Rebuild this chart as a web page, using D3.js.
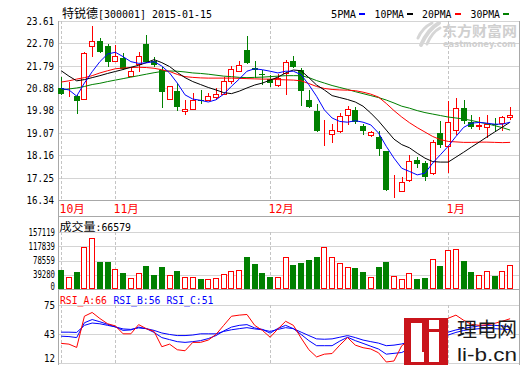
<!DOCTYPE html>
<html><head><meta charset="utf-8">
<script src="https://cdn.jsdelivr.net/npm/d3@7"></script>
<style>body{margin:0;background:#fff;} svg{display:block;}</style>
</head><body><div id="chart"></div>
<script>
// ---------------- DATA ----------------
const title = "特锐德[300001] 2015-01-15";
const dates = ["2014-10-23","2014-10-24","2014-10-27","2014-10-28","2014-10-29","2014-10-30","2014-10-31",
"2014-11-03","2014-11-04","2014-11-05","2014-11-06","2014-11-07","2014-11-10","2014-11-11","2014-11-12","2014-11-13","2014-11-14",
"2014-11-17","2014-11-18","2014-11-19","2014-11-20","2014-11-21","2014-11-24","2014-11-25","2014-11-26","2014-11-27","2014-11-28",
"2014-12-01","2014-12-02","2014-12-03","2014-12-04","2014-12-05","2014-12-08","2014-12-09","2014-12-10","2014-12-11","2014-12-12",
"2014-12-15","2014-12-16","2014-12-17","2014-12-18","2014-12-19","2014-12-22","2014-12-23","2014-12-24","2014-12-25","2014-12-26",
"2014-12-29","2014-12-30","2014-12-31",
"2015-01-05","2015-01-06","2015-01-07","2015-01-08","2015-01-09","2015-01-12","2015-01-13","2015-01-14","2015-01-15"];
const open  = [20.87,20.60,20.56,20.45,22.61,22.78,22.59,21.99,22.09,21.39,21.85,22.69,21.98,21.62,20.44,20.78,19.94,20.04,20.42,20.41,20.53,20.64,21.16,21.57,22.42,21.70,21.46,21.25,21.02,21.50,21.97,21.63,20.41,19.94,19.26,19.02,19.15,19.80,19.98,19.33,18.99,18.89,18.31,16.74,16.71,17.16,17.97,17.84,17.43,19.06,18.54,19.19,20.07,19.50,19.33,19.29,19.41,19.46,19.70];
const high  = [21.32,21.13,20.60,22.37,23.42,22.93,22.69,22.63,22.30,21.75,22.36,23.05,22.13,21.75,20.99,21.09,20.41,20.68,20.80,20.68,20.87,21.32,21.77,21.97,22.99,22.00,21.63,21.40,21.46,22.04,22.17,21.70,20.82,20.24,19.60,19.42,19.87,20.14,20.10,19.42,19.15,19.13,18.34,17.36,17.26,18.17,18.07,17.91,18.79,19.53,20.35,20.48,20.41,19.80,19.70,19.78,19.67,19.74,20.10];
const low   = [20.60,20.51,19.82,20.40,22.16,22.33,21.75,21.95,21.62,21.32,21.55,21.90,21.75,20.06,20.40,19.94,19.80,20.00,20.25,20.35,20.41,20.62,21.05,21.55,21.88,21.29,21.02,20.91,20.91,20.61,21.70,20.14,20.08,19.10,18.52,18.65,19.06,19.39,19.42,18.99,18.88,18.11,16.69,16.42,16.69,17.09,17.63,17.12,17.36,18.45,17.43,18.96,19.42,19.23,19.20,18.85,19.14,19.13,19.60];
const close = [20.64,20.62,20.37,22.32,22.78,22.36,21.96,22.19,21.66,21.58,22.20,21.96,21.81,20.71,20.97,20.13,20.04,20.41,20.40,20.55,20.64,21.16,21.67,21.81,21.90,21.61,21.43,21.09,21.29,21.94,21.73,20.78,20.10,19.15,19.27,19.19,19.74,20.03,19.50,19.13,19.09,18.42,16.75,16.76,17.09,17.93,17.81,17.26,18.68,18.58,19.50,20.07,19.56,19.29,19.38,19.44,19.39,19.70,19.78];
const volume = [51470,34400,46050,115670,140050,73950,73950,56080,43340,28990,45240,62310,37930,59600,39820,48760,31700,34400,27090,26280,28990,41450,50660,53370,89400,67730,43340,32510,31700,88580,65020,70430,81270,89400,115670,88580,72330,61490,56890,46050,31700,59600,73140,37110,26280,45240,27090,29800,83170,62310,107550,110260,75850,46050,39820,48760,35220,50660,66579];
const ma5  = [20.87,20.81,20.56,21.09,21.55,21.96,22.27,22.34,22.16,21.96,21.89,21.91,21.96,21.78,21.50,21.09,20.61,20.44,20.39,20.32,20.41,20.64,20.96,21.25,21.57,21.67,21.63,21.57,21.50,21.57,21.57,21.43,21.02,20.55,20.00,19.67,19.53,19.50,19.56,19.50,19.39,19.06,18.52,18.04,17.63,17.50,17.36,17.43,17.84,18.18,18.52,18.92,19.29,19.46,19.49,19.46,19.42,19.42,19.50];
const ma10 = [21.59,21.37,21.18,21.23,21.31,21.39,21.48,21.56,21.64,21.73,21.81,21.92,22.04,21.92,21.76,21.52,21.31,21.15,21.03,20.91,20.81,20.70,20.66,20.76,20.89,21.01,21.09,21.21,21.33,21.50,21.62,21.59,21.31,21.01,20.81,20.58,20.50,20.42,20.32,20.15,19.87,19.55,19.18,18.81,18.59,18.46,18.24,18.04,17.90,17.88,17.88,18.08,18.28,18.49,18.69,18.90,19.10,19.30,19.50];
const ma20 = [21.13,21.18,21.25,21.31,21.39,21.50,21.59,21.67,21.70,21.72,21.73,21.72,21.69,21.63,21.56,21.44,21.35,21.32,21.30,21.29,21.29,21.29,21.29,21.28,21.27,21.26,21.25,21.25,21.23,21.22,21.21,21.18,21.07,20.95,20.87,20.83,20.81,20.80,20.78,20.72,20.64,20.52,20.26,19.97,19.71,19.48,19.28,19.10,18.92,18.79,18.72,18.70,18.68,18.68,18.69,18.69,18.68,18.67,18.68];
const ma30 = [20.81,20.85,20.89,20.95,21.03,21.08,21.15,21.21,21.27,21.33,21.39,21.45,21.51,21.56,21.58,21.57,21.54,21.50,21.48,21.45,21.41,21.37,21.35,21.32,21.31,21.32,21.33,21.35,21.37,21.39,21.39,21.39,21.31,21.19,21.09,20.99,20.91,20.83,20.74,20.66,20.58,20.50,20.40,20.28,20.15,20.07,19.97,19.89,19.83,19.77,19.71,19.67,19.63,19.57,19.50,19.44,19.36,19.28,19.18];
const rsiA = [33.3,32.5,28.9,62.8,66.9,60.3,54.6,52.3,43.7,43.7,53.7,49.3,46.3,29.7,32.5,26.4,25.3,34.4,34.4,36.9,43.0,52.9,62.8,64.0,64.7,52.9,47.4,40.0,49.0,57.3,52.9,39.1,26.4,18.6,21.6,22.3,31.4,39.6,31.4,28.6,27.2,23.1,13.1,14.2,30.8,36.3,36.3,33.0,47.4,49.6,60.6,64.0,58.4,54.0,52.9,53.5,55.1,57.3,60.1];
const rsiB = [41.1,40.7,39.6,55.7,59.2,56.8,54.0,51.2,47.4,47.9,51.0,49.3,45.2,39.6,37.4,35.2,34.4,35.2,36.3,38.5,41.8,46.8,51.0,52.9,53.7,50.1,48.5,44.4,49.6,52.9,49.3,43.0,36.3,30.8,30.8,30.8,35.8,40.0,36.3,33.3,30.2,27.2,21.6,22.5,23.4,27.5,29.7,31.9,38.5,41.8,45.5,47.9,49.6,51.0,52.3,52.9,52.9,52.3,51.0];
const rsiC = [45.5,45.5,45.2,52.9,55.4,54.6,52.9,51.2,49.0,48.5,50.1,49.3,47.4,44.6,43.0,41.8,41.8,42.4,43.7,43.7,43.7,46.3,48.1,49.3,50.4,49.0,48.1,46.3,48.5,50.4,49.3,45.5,41.8,38.2,37.8,38.2,40.0,41.8,39.6,36.9,35.2,33.6,30.8,31.4,32.7,34.7,36.3,38.0,40.7,41.8,42.4,45.2,47.4,48.5,49.3,49.3,49.3,48.8,48.1];
const priceTicks = [16.34,17.25,18.16,19.07,19.98,20.88,21.79,22.70,23.61];
const priceTickLabels = ["16.34","17.25","18.16","19.07","19.98","20.88","21.79","22.70","23.61"];
const volTicks = [0,39280,78559,117839,157119];
const rsiTicks = [12,43,75];
const legendNames = ["5PMA","10PMA","20PMA","30PMA"];
const rsiLabels = ["RSI_A:66","RSI_B:56","RSI_C:51"];
const volLabelName = "成交量";

// ---------------- STYLE ----------------
const UP="#ff0000", DOWN="#008000", BLUE="#0000ff";
const maColors=[BLUE,"#000000","#ff0000","#008000"];
const GRID="#d4d4d4", BORDER="#a8a8a8", DASH="#c4c4c4";
const MONO='"DejaVu Sans Mono","Noto Sans CJK SC",monospace';
const CJK='"Noto Sans CJK SC","DejaVu Sans",sans-serif';
const L=58.5, R=519.5;

const svg=d3.select("#chart").append("svg").attr("width",520).attr("height",365);
svg.append("rect").attr("width",520).attr("height",365).attr("fill","#fff");

const x=d3.scalePoint().domain(dates).range([61.2,510.1]);
const cx=i=>Math.round(x(dates[i]))+0.5;
const yP=d3.scaleLinear().domain([16.34,23.61]).range([200,21]);
const yV=d3.scaleLinear().domain([0,157119]).range([289,232]);
const yR=d3.scaleLinear().domain([12,75]).range([363,305]);
const crisp=v=>Math.round(v)+0.5;

function txt(s,xx,yy,o={}){
  const t=svg.append("text").attr("x",xx).attr("y",yy).text(s)
    .attr("font-family",o.family||MONO).attr("font-size",o.size||11)
    .attr("fill",o.fill||"#000").attr("text-anchor",o.anchor||"start");
  if(o.len){t.attr("textLength",o.len).attr("lengthAdjust","spacingAndGlyphs");}
  if(o.weight)t.attr("font-weight",o.weight);
  return t;
}
function hline(yy,col,x1=L,x2=R){svg.append("line").attr("x1",x1).attr("x2",x2).attr("y1",yy).attr("y2",yy).attr("stroke",col).attr("stroke-width",1);}

// ---- grids ----
priceTicks.forEach(t=>hline(crisp(yP(t)),GRID));
volTicks.forEach(t=>hline(crisp(yV(t)),GRID));
rsiTicks.forEach(t=>hline(crisp(yR(t)),GRID));
hline(200.5,BORDER); hline(216.5,BORDER); hline(289.5,BORDER);

// ---- month dashed lines and labels ----
const monthStarts=dates.map((d,i)=>i).filter(i=>i===0||dates[i].slice(5,7)!==dates[i-1].slice(5,7));
monthStarts.forEach(i=>{
  const xx=cx(i);
  [[21,200],[232,289],[305,363]].forEach(([a,b])=>{
    svg.append("line").attr("x1",xx).attr("x2",xx).attr("y1",a).attr("y2",b)
      .attr("stroke",DASH).attr("stroke-dasharray","3,2");
  });
  const m=+dates[i].slice(5,7);
  txt(m+"月",xx-2,212.5,{fill:UP,size:11.5});
});

// borders
svg.append("line").attr("x1",L).attr("x2",L).attr("y1",21).attr("y2",365).attr("stroke",BORDER);
svg.append("line").attr("x1",R).attr("x2",R).attr("y1",21).attr("y2",365).attr("stroke",BORDER);

// ---- watermark eastmoney ----
const wm=svg.append("g").attr("fill","none").attr("stroke","#d6d6d6").attr("stroke-linecap","round");
wm.append("path").attr("d","M421,45 C425,36 430,28 439,23").attr("stroke-width",4);
wm.append("path").attr("d","M427,44 C430,37 434,31 440,28").attr("stroke-width",3);
wm.append("path").attr("d","M418,38 C421,31 426,26 432,23").attr("stroke-width",3);
txt("东方财富网",442,35.5,{family:CJK,size:14,fill:"#cfcfcf",weight:"bold",len:75});
txt("eastmoney.com",443,47,{family:'"DejaVu Sans",sans-serif',size:8,fill:"#cfcfcf",weight:"bold",len:73});

// ---- y labels ----
priceTicks.forEach((t,k)=>txt(priceTickLabels[k],54,yP(t)+4,{anchor:"end",len:27.5}));
volTicks.forEach((t,k)=>{
  const s=String(t); let yy=yV(t)+3.6; if(t===0) yy=289.5;
  txt(s,55,yy,{anchor:"end",size:10,len:s.length*4.4});
});
rsiTicks.forEach((t,k)=>{let yy=yR(t)+4; if(k===0)yy=362; txt(String(t),55,yy,{anchor:"end",size:10.5,len:11});});

// ---- candles ----
const cg=svg.append("g");
dates.forEach((d,i)=>{
  const up=close[i]>=open[i], col=up?UP:DOWN, xx=cx(i);
  const top=Math.round(yP(Math.max(open[i],close[i]))), bot=Math.round(yP(Math.min(open[i],close[i])));
  cg.append("line").attr("x1",xx).attr("x2",xx).attr("y1",Math.round(yP(high[i]))).attr("y2",Math.round(yP(low[i]))).attr("stroke",col);
  if(up){
    cg.append("rect").attr("x",xx-3).attr("y",top+0.5).attr("width",5).attr("height",Math.max(bot-top,0)).attr("fill","#fff").attr("stroke",col);
  } else {
    cg.append("rect").attr("x",xx-3.5).attr("y",top).attr("width",6).attr("height",Math.max(bot-top,1)).attr("fill",col);
  }
});

// ---- moving averages ----
[ma5,ma10,ma20,ma30].slice().reverse().forEach((arr,k)=>{
  const col=maColors[3-k];
  svg.append("path").datum(arr).attr("fill","none").attr("stroke",col).attr("stroke-width",1)
    .attr("d",d3.line().x((v,i)=>x(dates[i])).y(v=>yP(v)));
});

// ---- legend ----
const legX=[331,374.5,422,470.5], legW=[25,29.5,29.5,29.5], dashX=[359,407,455,503];
legendNames.forEach((n,k)=>{
  txt(n,legX[k],18,{len:legW[k]});
  svg.append("rect").attr("x",dashX[k]).attr("y",13).attr("width",6).attr("height",2).attr("fill",maColors[k]);
});

// ---- title ----
txt(title.slice(0,3),62,18,{family:CJK,size:12,len:36});
txt(title.slice(3),98,18,{size:11,len:114});

// ---- volume ----
txt(volLabelName,59.5,230.5,{family:CJK,size:11.5,len:36});
txt(":"+volume[volume.length-1],95.5,230.5,{size:11,len:35.5});
const vg=svg.append("g");
dates.forEach((d,i)=>{
  const up=close[i]>=open[i], col=up?UP:DOWN, xx=cx(i);
  const top=Math.round(yV(volume[i]));
  if(up) vg.append("rect").attr("x",xx-3).attr("y",top+0.5).attr("width",5).attr("height",289-top-1).attr("fill","#fff").attr("stroke",col);
  else vg.append("rect").attr("x",xx-3.5).attr("y",top).attr("width",6).attr("height",289-top).attr("fill",col);
});

// ---- RSI ----
txt(rsiLabels[0],60,304,{fill:UP,len:47});
txt(rsiLabels[1],113.5,304,{fill:BLUE,len:47});
txt(rsiLabels[2],166.5,304,{fill:BLUE,len:47});
[[rsiC,BLUE],[rsiB,BLUE],[rsiA,UP]].forEach(([arr,col])=>{
  svg.append("path").datum(arr).attr("fill","none").attr("stroke",col).attr("stroke-width",1)
    .attr("d",d3.line().x((v,i)=>x(dates[i])).y(v=>yR(v)));
});

// ---- Li watermark logo ----
svg.append("rect").attr("x",404).attr("y",318).attr("width",44).attr("height",47).attr("fill","#c9141b");
svg.append("rect").attr("x",411).attr("y",323).attr("width",11).attr("height",39).attr("fill","#fff");
svg.append("rect").attr("x",411).attr("y",352).attr("width",13).attr("height",10).attr("fill","#fff");
svg.append("rect").attr("x",429).attr("y",320).attr("width",10).attr("height",9).attr("fill","#fff");
svg.append("rect").attr("x",429).attr("y",332).attr("width",10).attr("height",30).attr("fill","#fff");
txt("理电网",457,337,{family:CJK,size:20,fill:"#1a1a1a",len:60});
txt("li-b.cn",457,361,{family:'"Liberation Sans","DejaVu Sans",sans-serif',size:19,fill:"#1a1a1a",len:60});
</script></body></html>
